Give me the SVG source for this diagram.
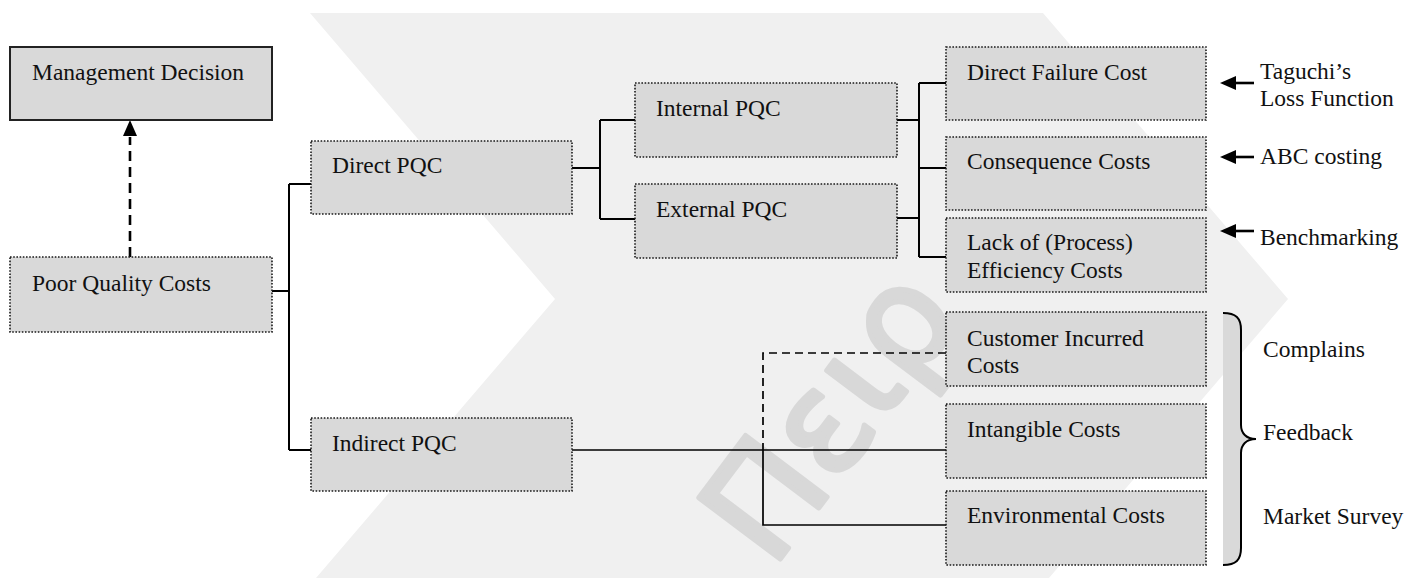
<svg xmlns="http://www.w3.org/2000/svg" width="1408" height="578" viewBox="0 0 1408 578">
  <defs>
    <style>
      .box { fill: #d9d9d9; stroke: #1a1a1a; stroke-width: 1.6; stroke-dasharray: 1.6 1.6; }
      .box-solid { fill: #d9d9d9; stroke: #222; stroke-width: 2; }
      .lbl { font-family: "Liberation Serif", "Times New Roman", serif; font-size: 23.5px; fill: #111; }
      .wire { fill: none; stroke: #000; stroke-width: 2; }
      .wire-thin { fill: none; stroke: #000; stroke-width: 1.7; }
      .dash { fill: none; stroke: #000; stroke-width: 1.7; stroke-dasharray: 8 5; }
      .dash-thick { fill: none; stroke: #000; stroke-width: 2.6; stroke-dasharray: 10 6; }
      .pointer { fill: none; stroke: #000; stroke-width: 2.6; }
      .tip { fill: #000; }
    </style>
  </defs>

  <rect width="1408" height="578" fill="#ffffff"/>

  <!-- background chevron and lettering -->
  <g id="backdrop">
    <polygon points="310,13 1043,13 1288,299 1049,578 316,578 555,299" fill="#f0f0f0"/>
    <text transform="translate(772,570) rotate(-53)" font-family="DejaVu Sans, sans-serif" font-size="140" fill="#d8d8d8" stroke="#d8d8d8" stroke-width="5" stroke-linejoin="round">Πειρ</text>
  </g>

  <!-- connectors -->
  <g id="connectors">
    <path class="dash-thick" d="M130,257 V137"/>
    <path class="tip" d="M130,120 L137,136 L123,136 Z"/>

    <path class="wire" d="M272,291 H289 M289,184 V450 M289,184 H311 M289,450 H311"/>
    <path class="wire" d="M572,168 H600 M600,120 V219 M600,120 H635 M600,219 H635"/>
    <path class="wire" d="M897,120 H919 M897,218 H919 M919,83 V257 M919,83 H946 M919,168 H946 M919,257 H946"/>
    <path class="wire-thin" d="M572,450 H946"/>
    <path class="dash" d="M946,353 H763 V450"/>
    <path class="wire-thin" d="M763,450 V525 H946"/>

    <path class="pointer" d="M1234,83 H1254"/>
    <path class="tip" d="M1220,83 L1236,76 L1236,90 Z"/>
    <path class="pointer" d="M1234,157 H1254"/>
    <path class="tip" d="M1220,157 L1236,150 L1236,164 Z"/>
    <path class="pointer" d="M1234,231 H1254"/>
    <path class="tip" d="M1220,231 L1236,224 L1236,238 Z"/>

    <!-- brace -->
    <path d="M1223,313 C1236,313 1241,318 1241,330 V425 C1241,433 1246,439 1256,439 C1246,439 1241,445 1241,453 V548 C1241,560 1236,565 1223,565 Z" fill="#d9d9d9" stroke="none"/>
    <path d="M1223,313 C1236,313 1241,318 1241,330 V425 C1241,433 1246,439 1256,439 C1246,439 1241,445 1241,453 V548 C1241,560 1236,565 1223,565" fill="none" stroke="#000" stroke-width="2"/>
  </g>

  <!-- nodes -->
  <g id="management-decision">
    <rect class="box-solid" x="10" y="47" width="262" height="73"/>
    <text class="lbl" x="32" y="80">Management Decision</text>
  </g>
  <g id="poor-quality-costs">
    <rect class="box" x="10" y="257" width="262" height="75"/>
    <text class="lbl" x="32" y="291">Poor Quality Costs</text>
  </g>
  <g id="direct-pqc">
    <rect class="box" x="311" y="141" width="261" height="73"/>
    <text class="lbl" x="332" y="173">Direct PQC</text>
  </g>
  <g id="indirect-pqc">
    <rect class="box" x="311" y="418" width="261" height="73"/>
    <text class="lbl" x="332" y="451">Indirect PQC</text>
  </g>
  <g id="internal-pqc">
    <rect class="box" x="635" y="83" width="262" height="74"/>
    <text class="lbl" x="656" y="116">Internal PQC</text>
  </g>
  <g id="external-pqc">
    <rect class="box" x="635" y="184" width="262" height="74"/>
    <text class="lbl" x="656" y="217">External PQC</text>
  </g>
  <g id="direct-failure-cost">
    <rect class="box" x="946" y="47" width="260" height="73"/>
    <text class="lbl" x="967" y="80">Direct Failure Cost</text>
  </g>
  <g id="consequence-costs">
    <rect class="box" x="946" y="137" width="260" height="73"/>
    <text class="lbl" x="967" y="169">Consequence Costs</text>
  </g>
  <g id="lack-of-efficiency">
    <rect class="box" x="946" y="218" width="260" height="74"/>
    <text class="lbl" x="967" y="250">Lack of (Process)</text>
    <text class="lbl" x="967" y="278">Efficiency Costs</text>
  </g>
  <g id="customer-incurred">
    <rect class="box" x="946" y="312" width="260" height="74"/>
    <text class="lbl" x="967" y="346">Customer Incurred</text>
    <text class="lbl" x="967" y="373">Costs</text>
  </g>
  <g id="intangible-costs">
    <rect class="box" x="946" y="404" width="260" height="74"/>
    <text class="lbl" x="967" y="437">Intangible Costs</text>
  </g>
  <g id="environmental-costs">
    <rect class="box" x="946" y="491" width="260" height="74"/>
    <text class="lbl" x="967" y="523">Environmental Costs</text>
  </g>

  <!-- side notes -->
  <g id="methods">
    <text class="lbl" x="1260" y="79">Taguchi’s</text>
    <text class="lbl" x="1260" y="106">Loss Function</text>
    <text class="lbl" x="1260" y="164">ABC costing</text>
    <text class="lbl" x="1260" y="245">Benchmarking</text>
    <text class="lbl" x="1263" y="357">Complains</text>
    <text class="lbl" x="1263" y="440">Feedback</text>
    <text class="lbl" x="1263" y="524">Market Survey</text>
  </g>
</svg>
